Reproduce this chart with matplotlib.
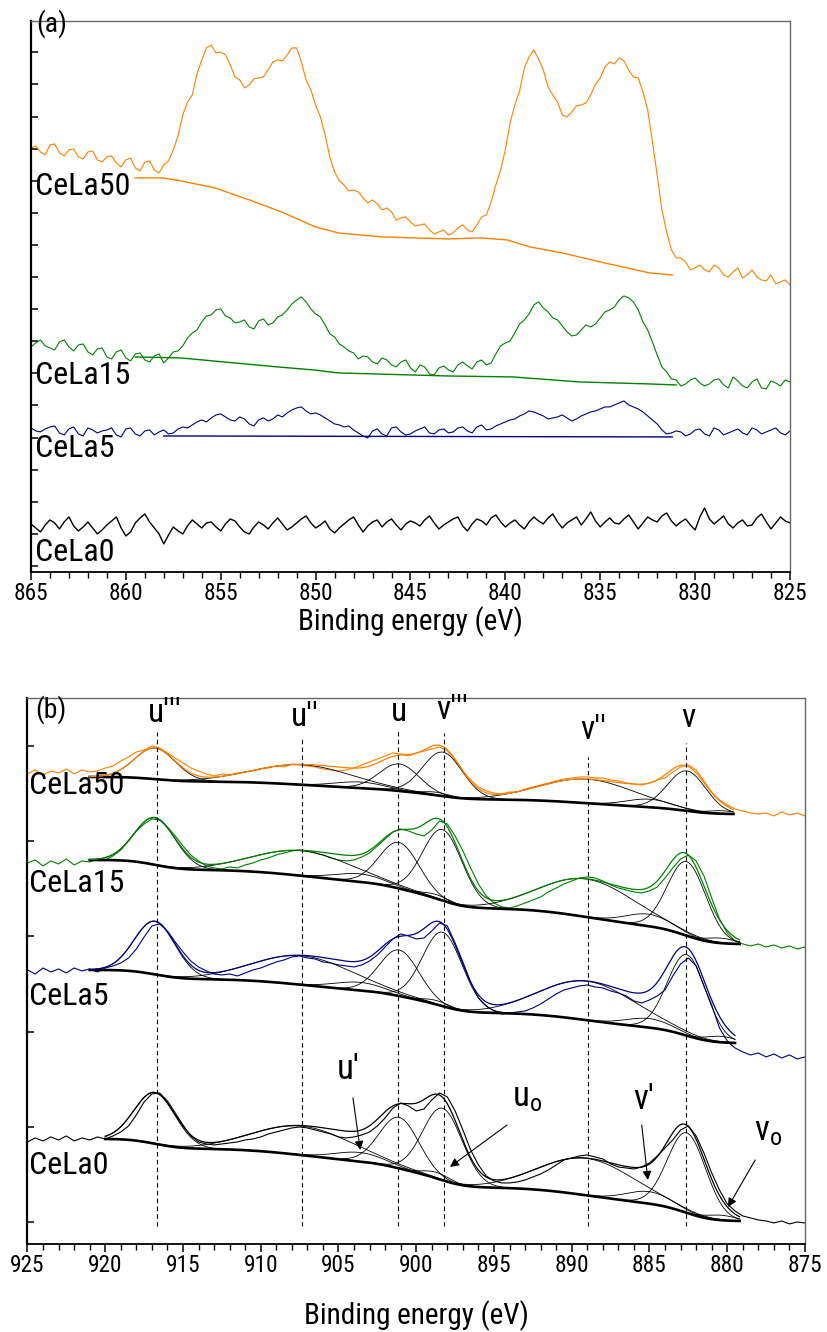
import math
import numpy as np
import matplotlib
matplotlib.use("Agg")
import matplotlib.pyplot as plt
from matplotlib.ticker import MultipleLocator

# narrow sans lettering as in the original figure
plt.rcParams["font.family"] = ["Roboto Condensed", "Liberation Sans", "DejaVu Sans"]
plt.rcParams["mathtext.default"] = "regular"

samples = ["CeLa50", "CeLa15", "CeLa5", "CeLa0"]
colors = ["#ff8000", "#008000", "#000080", "#000000"]

# ---------- (a) La 3d, 865 -> 825 eV, one point every 0.25 eV
la_start, la_stop, la_step = 865.0, 825.0, 0.25
la_cela50 = [424, 426, 420, 417, 427, 428, 419, 416, 422, 423, 415, 413, 420, 421, 412, 410, 415, 416, 409, 405,
             412, 414, 404, 401, 410, 411, 402, 399, 407, 411, 422, 436, 457, 470, 477, 498, 512, 524, 527, 519,
             520, 517, 507, 495, 492, 484, 487, 493, 494, 495, 502, 510, 512, 511, 517, 524, 524, 510, 492, 482,
             467, 455, 437, 415, 400, 391, 387, 381, 382, 380, 374, 369, 372, 368, 362, 364, 360, 352, 354, 355,
             350, 346, 347, 348, 342, 338, 340, 342, 337, 339, 344, 347, 342, 340, 347, 355, 357, 370, 387, 402,
             422, 449, 467, 481, 504, 515, 522, 513, 502, 485, 477, 470, 457, 455, 460, 466, 467, 469, 477, 488,
             494, 505, 510, 508, 514, 511, 502, 495, 494, 480, 462, 430, 397, 362, 340, 322, 314, 314, 310, 302,
             304, 307, 302, 300, 307, 304, 297, 295, 300, 304, 294, 297, 302, 295, 292, 291, 297, 288, 290, 292,
             287]
la_cela15 = [225, 229, 232, 226, 224, 222, 230, 232, 225, 221, 227, 228, 220, 217, 223, 224, 215, 213, 220, 222,
             214, 211, 218, 219, 212, 210, 216, 218, 209, 214, 220, 221, 226, 234, 239, 242, 250, 256, 257, 262,
             263, 256, 254, 249, 250, 252, 245, 243, 251, 253, 247, 249, 255, 257, 262, 268, 272, 275, 270, 263,
             258, 255, 247, 238, 235, 228, 225, 221, 219, 213, 216, 215, 210, 208, 214, 212, 207, 205, 210, 212,
             204, 200, 207, 205, 198, 197, 204, 206, 202, 200, 207, 210, 206, 203, 210, 212, 207, 209, 218, 226,
             229, 231, 239, 248, 252, 258, 267, 270, 264, 260, 254, 252, 246, 240, 236, 237, 242, 247, 245, 248,
             254, 260, 262, 265, 272, 276, 274, 270, 262, 250, 242, 230, 217, 205, 200, 193, 192, 186, 188, 192,
             194, 189, 186, 188, 192, 193, 187, 184, 195, 191, 186, 184, 190, 193, 184, 183, 191, 189, 186, 192,
             190]
la_cela5 = [144, 141, 140, 143, 145, 146, 139, 137, 143, 145, 138, 136, 144, 142, 139, 141, 142, 144, 137, 135,
            143, 144, 138, 136, 141, 142, 137, 140, 142, 138, 139, 143, 145, 144, 147, 150, 152, 150, 154, 157,
            158, 155, 152, 151, 155, 153, 148, 146, 152, 154, 151, 153, 157, 155, 159, 162, 164, 165, 161, 158,
            159, 157, 154, 151, 148, 147, 145, 146, 142, 139, 136, 134, 141, 143, 138, 136, 144, 145, 140, 137,
            138, 141, 143, 145, 139, 138, 142, 143, 139, 140, 144, 145, 141, 139, 145, 147, 142, 143, 146, 148,
            150, 152, 153, 156, 158, 161, 160, 158, 156, 153, 154, 155, 157, 154, 151, 153, 156, 158, 160, 161,
            163, 165, 165, 167, 169, 171, 167, 165, 163, 160, 156, 152, 148, 142, 138, 139, 141, 140, 136, 138,
            142, 143, 138, 136, 144, 142, 137, 139, 141, 143, 139, 137, 144, 142, 138, 140, 142, 144, 139, 137,
            141]
la_cela0 = [48, 44, 40, 47, 52, 49, 43, 50, 55, 46, 41, 45, 50, 44, 38, 42, 47, 51, 55, 44,
            36, 40, 49, 54, 58, 50, 44, 38, 28, 37, 45, 41, 38, 46, 52, 48, 44, 49, 50, 45,
            41, 48, 53, 51, 45, 40, 38, 45, 50, 47, 43, 49, 54, 48, 42, 45, 49, 53, 56, 49,
            44, 47, 51, 43, 39, 44, 48, 52, 55, 47, 40, 46, 50, 52, 45, 50, 53, 47, 42, 48,
            51, 49, 46, 52, 56, 49, 43, 47, 50, 53, 55, 46, 41, 48, 53, 51, 47, 54, 57, 50,
            45, 49, 52, 47, 43, 50, 55, 51, 48, 54, 58, 50, 44, 49, 52, 55, 47, 53, 60, 51,
            45, 50, 54, 49, 48, 53, 57, 50, 43, 49, 55, 52, 50, 56, 59, 51, 46, 50, 53, 47,
            42, 55, 64, 53, 48, 52, 56, 48, 44, 49, 52, 46, 47, 54, 58, 50, 43, 49, 55, 51,
            49]
# backgrounds under the La 3d signals
la_bg50_e = [859.5, 858, 857.1, 855.3, 853.5, 851.8, 850, 848.8, 846.5,
             843, 841.3, 839.9, 838.7, 837, 835, 832.4, 831.2]
la_bg50_i = [394, 394, 391, 384, 372, 360, 345, 339, 335,
             333, 334, 332, 325, 319, 310, 299, 297]
la_bg15_e = [859.5, 857.1, 852, 850.1, 848.8, 843.1, 839.6, 836.1, 832.4, 831]
la_bg15_i = [215, 214, 205, 202, 199, 196, 195, 190, 188, 187]
la_bg5_e = [858, 831.2]
la_bg5_i = [136, 135]

# ---------- (b) Ce 3d, 925 -> 875 eV, one point every 0.5 eV
ce_start, ce_stop, ce_step = 925.0, 875.0, 0.5
ce_cela50 = [470, 474, 469, 473, 471, 475, 470, 474, 472, 473,
             476, 478, 483, 487, 492, 494, 498, 496, 491, 486,
             481, 476, 473, 470, 468, 470, 469, 471, 472, 473,
             475, 476, 478, 477, 480, 479, 478, 477, 475, 474,
             473, 474, 476, 479, 482, 485, 488, 491, 490, 488,
             491, 493, 495, 497, 493, 484, 473, 464, 457, 453,
             451, 450, 452, 452, 455, 457, 459, 461, 463, 465,
             466, 467, 467, 466, 466, 464, 463, 461, 460, 459,
             461, 464, 466, 472, 477, 479, 474, 463, 452, 444,
             439, 435, 433, 431, 430, 431, 428, 432, 429, 431,
             428]
ce_cela15 = [381, 384, 378, 383, 380, 385, 379, 383, 382, 385,
             384, 388, 394, 403, 413, 420, 425, 424, 417, 408,
             398, 389, 383, 378, 376, 375, 377, 376, 379, 381,
             384, 386, 389, 391, 393, 394, 393, 391, 389, 386,
             384, 383, 384, 387, 391, 398, 405, 412, 415, 413,
             410, 408, 414, 423, 420, 408, 393, 376, 360, 348,
             341, 337, 336, 338, 341, 344, 347, 352, 356, 360,
             363, 366, 367, 366, 363, 359, 356, 354, 352, 351,
             353, 357, 366, 376, 385, 389, 383, 368, 346, 325,
             311, 303, 300, 298, 300, 297, 299, 296, 298, 295,
             297]
ce_cela5 = [274, 270, 276, 272, 275, 271, 276, 273, 275, 272,
            276, 278, 281, 286, 295, 307, 318, 320, 313, 302,
            292, 283, 277, 273, 270, 269, 270, 268, 271, 274,
            276, 279, 282, 284, 287, 288, 286, 285, 282, 281,
            279, 278, 277, 279, 283, 289, 297, 305, 310, 308,
            305, 306, 313, 321, 318, 301, 282, 262, 246, 238,
            233, 230, 231, 232, 233, 236, 240, 245, 250, 254,
            256, 258, 259, 257, 256, 253, 251, 248, 243, 241,
            244, 248, 254, 268, 280, 286, 278, 258, 239, 216,
            203, 196, 192, 189, 191, 187, 190, 186, 189, 185,
            187]
ce_cela0 = [102, 106, 103, 107, 104, 108, 103, 106, 104, 107,
            105, 108, 112, 118, 129, 142, 150, 151, 143, 131,
            119, 108, 102, 100, 99, 100, 101, 102, 104, 105,
            107, 110, 112, 114, 116, 117, 116, 114, 112, 110,
            107, 106, 107, 109, 112, 118, 126, 136, 141, 138,
            133, 135, 144, 151, 147, 133, 114, 94, 79, 68,
            63, 61, 61, 62, 64, 67, 70, 74, 79, 84,
            86, 88, 89, 87, 85, 80, 77, 76, 75, 77,
            81, 88, 96, 104, 114, 118, 108, 91, 71, 54,
            40, 33, 28, 26, 24, 23, 21, 23, 20, 22,
            21]

# fitted components: u''', u'', u', u, u0, v''', v'', v', v, v0
peak_center = [916.8, 907.3, 903.6, 901.1, 898.7, 898.3, 889.0, 885.0, 882.6, 880.4]
peak_fwhm = [3.1, 7.5, 3.8, 3.0, 2.0, 3.0, 7.2, 3.5, 2.9, 2.2]
h_cela50 = [31, 20, 6, 27, 3, 44, 24, 8, 40, 3]
h_cela15 = [47, 25, 8, 46, 4, 71, 38, 12, 74, 5]
h_cela5 = [53, 29, 8, 46, 4, 74, 39, 9, 81, 6]
h_cela0 = [51, 29, 9, 51, 6, 72, 37, 12, 80, 5]
bg_high = [467, 384, 274, 105]
bg_low = [430, 300, 201, 23]
fit_high = [921.0, 921.0, 921.0, 920.0]
fit_low = [879.6, 879.2, 879.5, 879.2]

dash_e = [916.7, 907.35, 901.2, 898.2, 888.96, 882.65]
dash_names = ["u'''", "u''", "u", "v'''", "v''", "v"]


def gauss(e, c, h, w):
    s = w / 2.3548
    return h * np.exp(-0.5 * ((e - c) / s) ** 2)


def shirley(e, hi, lo, heights):
    # background step follows the share of peak area lying below each energy
    erf = np.vectorize(math.erf)
    cum = np.zeros_like(e)
    for c, h, w in zip(peak_center, heights, peak_fwhm):
        s = w / 2.3548
        cum += h * s * 0.5 * (1 + erf((e - c) / (s * math.sqrt(2))))
    f = (cum - cum[-1]) / (cum[0] - cum[-1])
    return lo + (hi - lo) * f


def style_axes(ax, labelpad):
    for side in ["top", "right"]:
        ax.spines[side].set_color("#666666")
        ax.spines[side].set_linewidth(1.0)
    ax.spines["left"].set_linewidth(1.6)
    ax.spines["bottom"].set_linewidth(1.3)
    ax.xaxis.set_major_locator(MultipleLocator(5))
    ax.xaxis.set_minor_locator(MultipleLocator(1))
    ax.tick_params(axis="x", which="major", direction="out", length=6, width=1.1,
                   labelsize=16.8, pad=1)
    ax.tick_params(axis="x", which="minor", direction="out", length=4, width=1.0)
    ax.tick_params(axis="y", direction="in", length=5, width=1.1, labelleft=False)
    ax.set_xlabel("Binding energy (eV)", fontsize=21, labelpad=labelpad)


fig = plt.figure(figsize=(8.28, 13.32), dpi=100)

# ---------------- panel (a)
ax = fig.add_axes([0.0374, 0.5706, 0.9167, 0.4137])
for data, c in zip([la_cela50, la_cela15, la_cela5, la_cela0], colors):
    ea = la_start - la_step * np.arange(len(data))
    ax.plot(ea, data, color=c, lw=0.8 if c != "#000000" else 1.0)
for be, bi, c in [(la_bg50_e, la_bg50_i, colors[0]), (la_bg15_e, la_bg15_i, colors[1]),
                  (la_bg5_e, la_bg5_i, colors[2])]:
    ax.plot(be, bi, color=c, lw=1.0)
ax.set_xlim(865, 825)
ax.set_ylim(0, 551)
ax.set_yticks(np.arange(6, 521, 32.1))
style_axes(ax, 1)
for name, y in zip(samples, [385, 196, 123, 19]):
    ax.text(864.8, y, name, fontsize=23, ha="left", va="center")
ax.text(864.7, 548, "(a)", fontsize=20, ha="left", va="center")

# ---------------- panel (b)
ax = fig.add_axes([0.0332, 0.0661, 0.939, 0.4099])
eb = np.arange(ce_start, ce_stop - ce_step / 2, -ce_step)
spectra = [ce_cela50, ce_cela15, ce_cela5, ce_cela0]
heights = [h_cela50, h_cela15, h_cela5, h_cela0]
for k in range(4):
    ax.plot(eb, spectra[k], color=colors[k], lw=0.8)
    ef = np.arange(fit_high[k], fit_low[k] - 0.025, -0.05)
    bg = shirley(ef, bg_high[k], bg_low[k], heights[k])
    env = bg.copy()
    for c, h, w in zip(peak_center, heights[k], peak_fwhm):
        g = gauss(ef, c, h, w)
        env += g
        ax.plot(ef, bg + g, color="k", lw=0.6)
    ax.plot(ef, bg, color="k", lw=1.9)
    ax.plot(ef, env, color=colors[k], lw=0.9)

for e, top in zip(dash_e, [512, 507, 514, 511, 487, 501]):
    ax.plot([e, e], [18, top], color="k", lw=0.8, ls=(0, (4, 3)))
for name, x, y in zip(dash_names, [916.16, 907.16, 901.1, 897.7, 888.6, 882.5],
                      [531, 527, 532, 534, 514, 526]):
    ax.text(x, y, name, fontsize=24, ha="center", va="center")

ax.set_xlim(925, 875)
ax.set_ylim(0, 546)
ax.set_yticks(np.arange(22, 500, 95.2))
style_axes(ax, 17)
for name, y in zip(samples, [458, 360, 247, 78]):
    ax.text(924.9, y, name, fontsize=23, ha="left", va="center")
ax.text(924.5, 534, "(b)", fontsize=20, ha="left", va="center")

arrow = dict(arrowstyle="-|>", color="k", lw=0.8, mutation_scale=13,
             shrinkA=0, shrinkB=0)
ax.annotate("", xy=(903.6, 94), xytext=(904.07, 146), arrowprops=arrow)
ax.annotate("", xy=(897.83, 77), xytext=(894.16, 119), arrowprops=arrow)
ax.annotate("", xy=(885.1, 64), xytext=(885.5, 119), arrowprops=arrow)
ax.annotate("", xy=(879.95, 37), xytext=(878.2, 84), arrowprops=arrow)
ax.text(904.4, 174, "u'", fontsize=25, ha="center", va="center")
ax.text(892.9, 146, "u$_{o}$", fontsize=25, ha="center", va="center")
ax.text(885.35, 144, "v'", fontsize=25, ha="center", va="center")
ax.text(877.4, 112, "v$_{o}$", fontsize=25, ha="center", va="center")

fig.savefig("out.png", dpi=100)
